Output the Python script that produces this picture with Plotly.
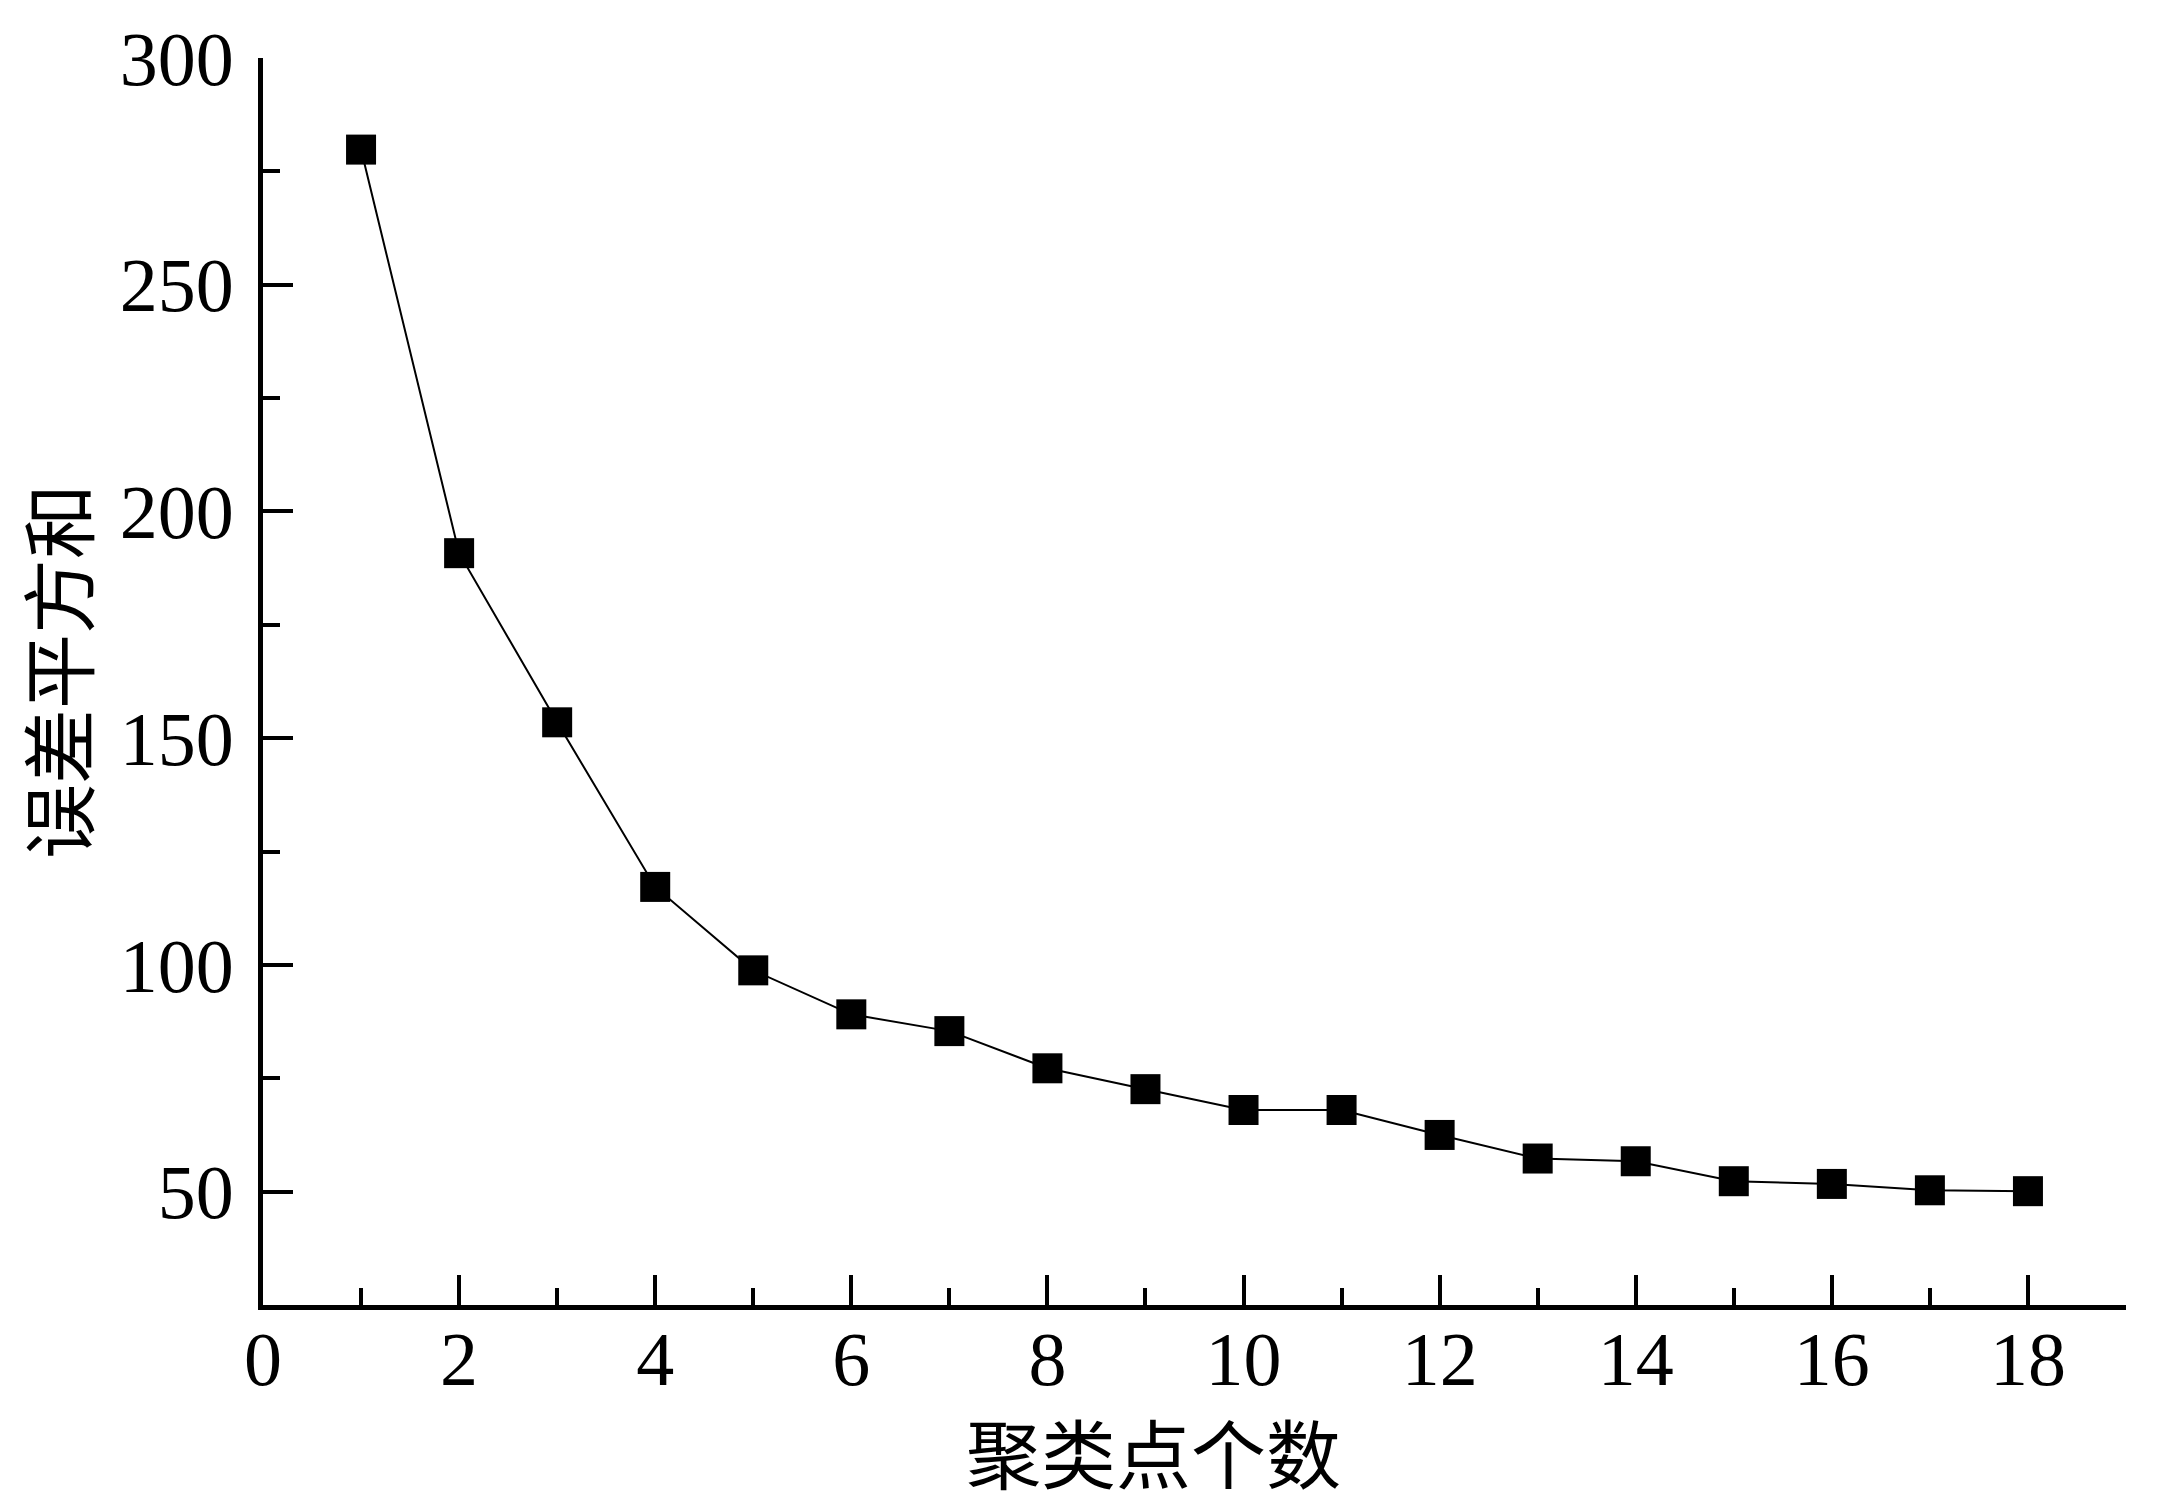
import plotly.graph_objects as go

clusters = list(range(1, 19))
sse = [279.8, 190.8, 153.5, 117.2, 98.8, 89.1, 85.4, 77.2, 72.6, 68.0, 68.0, 62.5, 57.3, 56.7, 52.3, 51.7, 50.3, 50.1]
x_tick_vals = [0, 2, 4, 6, 8, 10, 12, 14, 16, 18]
y_tick_vals = [50, 100, 150, 200, 250, 300]
x_title = "聚类点个数"
y_title = "误差平方和"

fig = go.Figure()
fig.add_trace(go.Scatter(
    x=clusters, y=sse, mode="lines+markers",
    line=dict(color="black", width=2),
    marker=dict(symbol="square", size=30, color="black"),
    showlegend=False,
))

tickfont = dict(family="Liberation Serif, Times New Roman, serif", size=76, color="black")
titlefont = dict(family="Noto Sans CJK SC", size=75, color="black")

fig.update_layout(
    width=2172, height=1507,
    margin=dict(l=263, r=46, t=58, b=202),
    plot_bgcolor="white", paper_bgcolor="white",
    xaxis=dict(
        range=[0, 19], tickvals=x_tick_vals, ticktext=[str(v) for v in x_tick_vals],
        ticks="inside", ticklen=30, tickwidth=4, tickcolor="black",
        showline=True, linewidth=5, linecolor="black",
        showgrid=False, zeroline=False, tickfont=tickfont,
        ticklabelstandoff=-16, automargin=False,
        minor=dict(ticks="inside", ticklen=17, tickwidth=4, tickcolor="black", dtick=1, tick0=0, showgrid=False),
    ),
    yaxis=dict(
        range=[25, 300], tickvals=y_tick_vals, ticktext=[str(v) for v in y_tick_vals],
        ticks="inside", ticklen=30, tickwidth=4, tickcolor="black",
        showline=True, linewidth=5, linecolor="black",
        showgrid=False, zeroline=False, tickfont=tickfont,
        ticklabelstandoff=9, automargin=False,
        minor=dict(ticks="inside", ticklen=17, tickwidth=4, tickcolor="black", dtick=25, tick0=0, showgrid=False),
    ),
    annotations=[
        dict(text=x_title, font=titlefont, xref="paper", yref="paper",
             x=(1153 - 263) / (2172 - 263 - 46), y=-(1450 - 1305) / (1507 - 58 - 202),
             xanchor="center", yanchor="middle", showarrow=False),
        dict(text=y_title, font=titlefont, xref="paper", yref="paper", textangle=-90,
             x=-(263 - 55) / (2172 - 263 - 46), y=(1305 - 672) / (1507 - 58 - 202),
             xanchor="center", yanchor="middle", showarrow=False),
    ],
)

fig.write_html("out.html", config={"displayModeBar": False},
               post_script="document.body.style.margin='0';document.body.style.overflow='hidden';")
